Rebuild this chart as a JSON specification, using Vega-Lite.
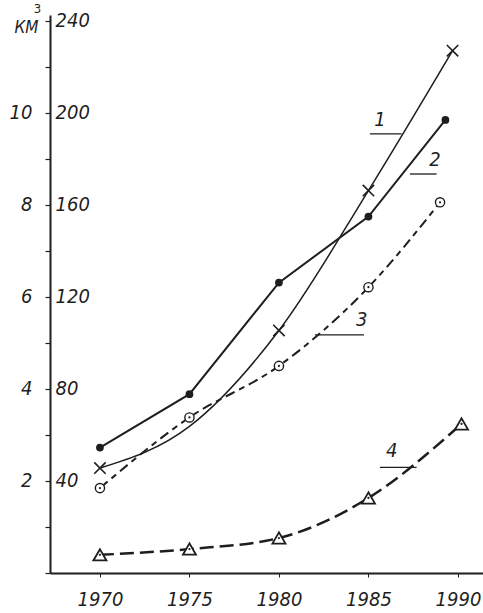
{
  "$schema": "https://vega.github.io/schema/vega-lite/v6.json",
  "width": 433,
  "height": 558,
  "autosize": {"type": "none"},
  "padding": {"left": 50, "top": 15, "right": 0, "bottom": 40},
  "background": "white",
  "config": {
    "view": {"stroke": null},
    "font": "DejaVu Sans Condensed, sans-serif",
    "axis": {"grid": false, "labelColor": "#1e1e1e", "tickColor": "#1e1e1e", "domainColor": "#1e1e1e", "labelFontStyle": "italic", "labelFontSize": 20, "labelFont": "DejaVu Sans Condensed, sans-serif"}
  },
  "datasets": {
    "pts": [
      {"s": "1", "year": 1970, "v": 45.6, "mk": true},
      {"s": "1", "year": 1975, "v": 63.7, "mk": false},
      {"s": "1", "year": 1980, "v": 105.4, "mk": true},
      {"s": "1", "year": 1985, "v": 166.2, "mk": true},
      {"s": "1", "year": 1989.7, "v": 227.0, "mk": true},
      {"s": "2", "year": 1970, "v": 54.5, "mk": true},
      {"s": "2", "year": 1975, "v": 77.7, "mk": true},
      {"s": "2", "year": 1980, "v": 126.2, "mk": true},
      {"s": "2", "year": 1985, "v": 154.9, "mk": true},
      {"s": "2", "year": 1989.3, "v": 196.9, "mk": true},
      {"s": "3", "year": 1970, "v": 36.9, "mk": true},
      {"s": "3", "year": 1975, "v": 67.6, "mk": true},
      {"s": "3", "year": 1980, "v": 90.0, "mk": true},
      {"s": "3", "year": 1985, "v": 124.2, "mk": true},
      {"s": "3", "year": 1989.0, "v": 161.1, "mk": true},
      {"s": "4", "year": 1970, "v": 7.9, "mk": true},
      {"s": "4", "year": 1975, "v": 10.4, "mk": true},
      {"s": "4", "year": 1980, "v": 15.2, "mk": true},
      {"s": "4", "year": 1985, "v": 32.6, "mk": true},
      {"s": "4", "year": 1990.2, "v": 64.8, "mk": true}
    ],
    "labels": [
      {"label": "1", "tx": 1985.64, "ty": 197.0, "x1": 1985.08, "x2": 1986.85, "ly": 190.8},
      {"label": "2", "tx": 1988.72, "ty": 179.5, "x1": 1987.32, "x2": 1988.81, "ly": 173.4},
      {"label": "3", "tx": 1984.62, "ty": 110.0, "x1": 1982.01, "x2": 1984.75, "ly": 103.5},
      {"label": "4", "tx": 1986.3, "ty": 53.0, "x1": 1985.64, "x2": 1987.69, "ly": 45.9}
    ]
  },
  "resolve": {"axis": {"y": "independent"}},
  "layer": [
    {
      "data": {"name": "pts"},
      "transform": [{"filter": "datum.s == '1'"}],
      "mark": {"type": "line", "interpolate": "monotone", "color": "#1e1e1e", "strokeWidth": 1.5},
      "encoding": {
        "x": {"field": "year", "type": "quantitative", "scale": {"domain": [1967.21, 1991.4], "nice": false, "zero": false},
          "axis": {"values": [1970, 1975, 1980, 1985, 1990], "format": "d", "title": null, "tickSize": 4, "labelPadding": 12, "domainWidth": 2, "labelFlush": false}},
        "y": {"field": "v", "type": "quantitative", "scale": {"domain": [0, 242.5], "nice": false, "zero": false},
          "axis": {"orient": "left", "values": [0, 20, 40, 60, 80, 100, 120, 140, 160, 180, 200, 220, 240],
            "labelExpr": "datum.value % 40 == 0 && datum.value > 0 ? datum.label : ''",
            "labelAlign": "left", "labelBaseline": "middle", "labelPadding": -10, "tickSize": 5, "tickWidth": 1.2, "domainWidth": 2, "labelOverlap": false,
            "title": "3", "titleAngle": 0, "titleX": -13, "titleY": -7, "titleFontSize": 13, "titleFontWeight": "normal", "titleAlign": "center", "titleBaseline": "middle", "titleColor": "#1e1e1e"}}
      }
    },
    {
      "data": {"name": "pts"},
      "transform": [{"filter": "datum.s == '2'"}],
      "mark": {"type": "line", "color": "#1e1e1e", "strokeWidth": 2},
      "encoding": {
        "x": {"field": "year", "type": "quantitative"},
        "y": {"field": "v", "type": "quantitative",
          "axis": {"orient": "left", "values": [40, 80, 120, 160, 200], "labelExpr": "datum.value / 20", "domain": false, "ticks": false, "labelPadding": 18, "labelAlign": "right", "labelBaseline": "middle",
            "title": "КМ", "titleAngle": 0, "titleX": -24, "titleY": 12, "titleFontSize": 17, "titleFontWeight": "normal", "titleFontStyle": "italic", "titleAlign": "center", "titleBaseline": "middle", "titleColor": "#1e1e1e", "titleFont": "DejaVu Sans Condensed, sans-serif"}}
      }
    },
    {
      "data": {"name": "pts"},
      "transform": [{"filter": "datum.s == '3'"}],
      "mark": {"type": "line", "interpolate": "monotone", "color": "#1e1e1e", "strokeWidth": 2, "strokeDash": [10, 5, 6, 5]},
      "encoding": {
        "x": {"field": "year", "type": "quantitative"},
        "y": {"field": "v", "type": "quantitative", "axis": null}
      }
    },
    {
      "data": {"name": "pts"},
      "transform": [{"filter": "datum.s == '4'"}],
      "mark": {"type": "line", "interpolate": "monotone", "color": "#1e1e1e", "strokeWidth": 2.5, "strokeDash": [14, 6]},
      "encoding": {
        "x": {"field": "year", "type": "quantitative"},
        "y": {"field": "v", "type": "quantitative", "axis": null}
      }
    },
    {
      "data": {"name": "pts"},
      "transform": [{"filter": "datum.s == '1' && datum.mk"}],
      "mark": {"type": "point", "shape": "M-1,-1L1,1M-1,1L1,-1", "size": 130, "filled": false, "stroke": "#1e1e1e", "strokeWidth": 1.6, "opacity": 1},
      "encoding": {
        "x": {"field": "year", "type": "quantitative"},
        "y": {"field": "v", "type": "quantitative", "axis": null}
      }
    },
    {
      "data": {"name": "pts"},
      "transform": [{"filter": "datum.s == '2'"}],
      "mark": {"type": "point", "shape": "circle", "size": 60, "filled": true, "color": "#1e1e1e", "opacity": 1},
      "encoding": {
        "x": {"field": "year", "type": "quantitative"},
        "y": {"field": "v", "type": "quantitative", "axis": null}
      }
    },
    {
      "data": {"name": "pts"},
      "transform": [{"filter": "datum.s == '3'"}],
      "mark": {"type": "point", "shape": "circle", "size": 85, "fill": "white", "fillOpacity": 1, "stroke": "#1e1e1e", "strokeWidth": 1.4, "opacity": 1},
      "encoding": {
        "x": {"field": "year", "type": "quantitative"},
        "y": {"field": "v", "type": "quantitative", "axis": null}
      }
    },
    {
      "data": {"name": "pts"},
      "transform": [{"filter": "datum.s == '4'"}],
      "mark": {"type": "point", "shape": "triangle-up", "size": 170, "fill": "white", "fillOpacity": 1, "stroke": "#1e1e1e", "strokeWidth": 1.8, "opacity": 1},
      "encoding": {
        "x": {"field": "year", "type": "quantitative"},
        "y": {"field": "v", "type": "quantitative", "axis": null}
      }
    },
    {
      "data": {"name": "pts"},
      "transform": [{"filter": "datum.s == '3' || datum.s == '4'"}],
      "mark": {"type": "point", "shape": "circle", "size": 5, "filled": true, "color": "#1e1e1e", "opacity": 1},
      "encoding": {
        "x": {"field": "year", "type": "quantitative"},
        "y": {"field": "v", "type": "quantitative", "axis": null}
      }
    },
    {
      "data": {"name": "labels"},
      "mark": {"type": "rule", "color": "#1e1e1e", "strokeWidth": 1.3},
      "encoding": {
        "x": {"field": "x1", "type": "quantitative"},
        "x2": {"field": "x2"},
        "y": {"field": "ly", "type": "quantitative", "axis": null}
      }
    },
    {
      "data": {"name": "labels"},
      "mark": {"type": "text", "fontSize": 20, "fontStyle": "italic", "color": "#1e1e1e", "baseline": "middle", "align": "center", "font": "DejaVu Sans Condensed, sans-serif"},
      "encoding": {
        "x": {"field": "tx", "type": "quantitative"},
        "y": {"field": "ty", "type": "quantitative", "axis": null},
        "text": {"field": "label"}
      }
    }
  ]
}
